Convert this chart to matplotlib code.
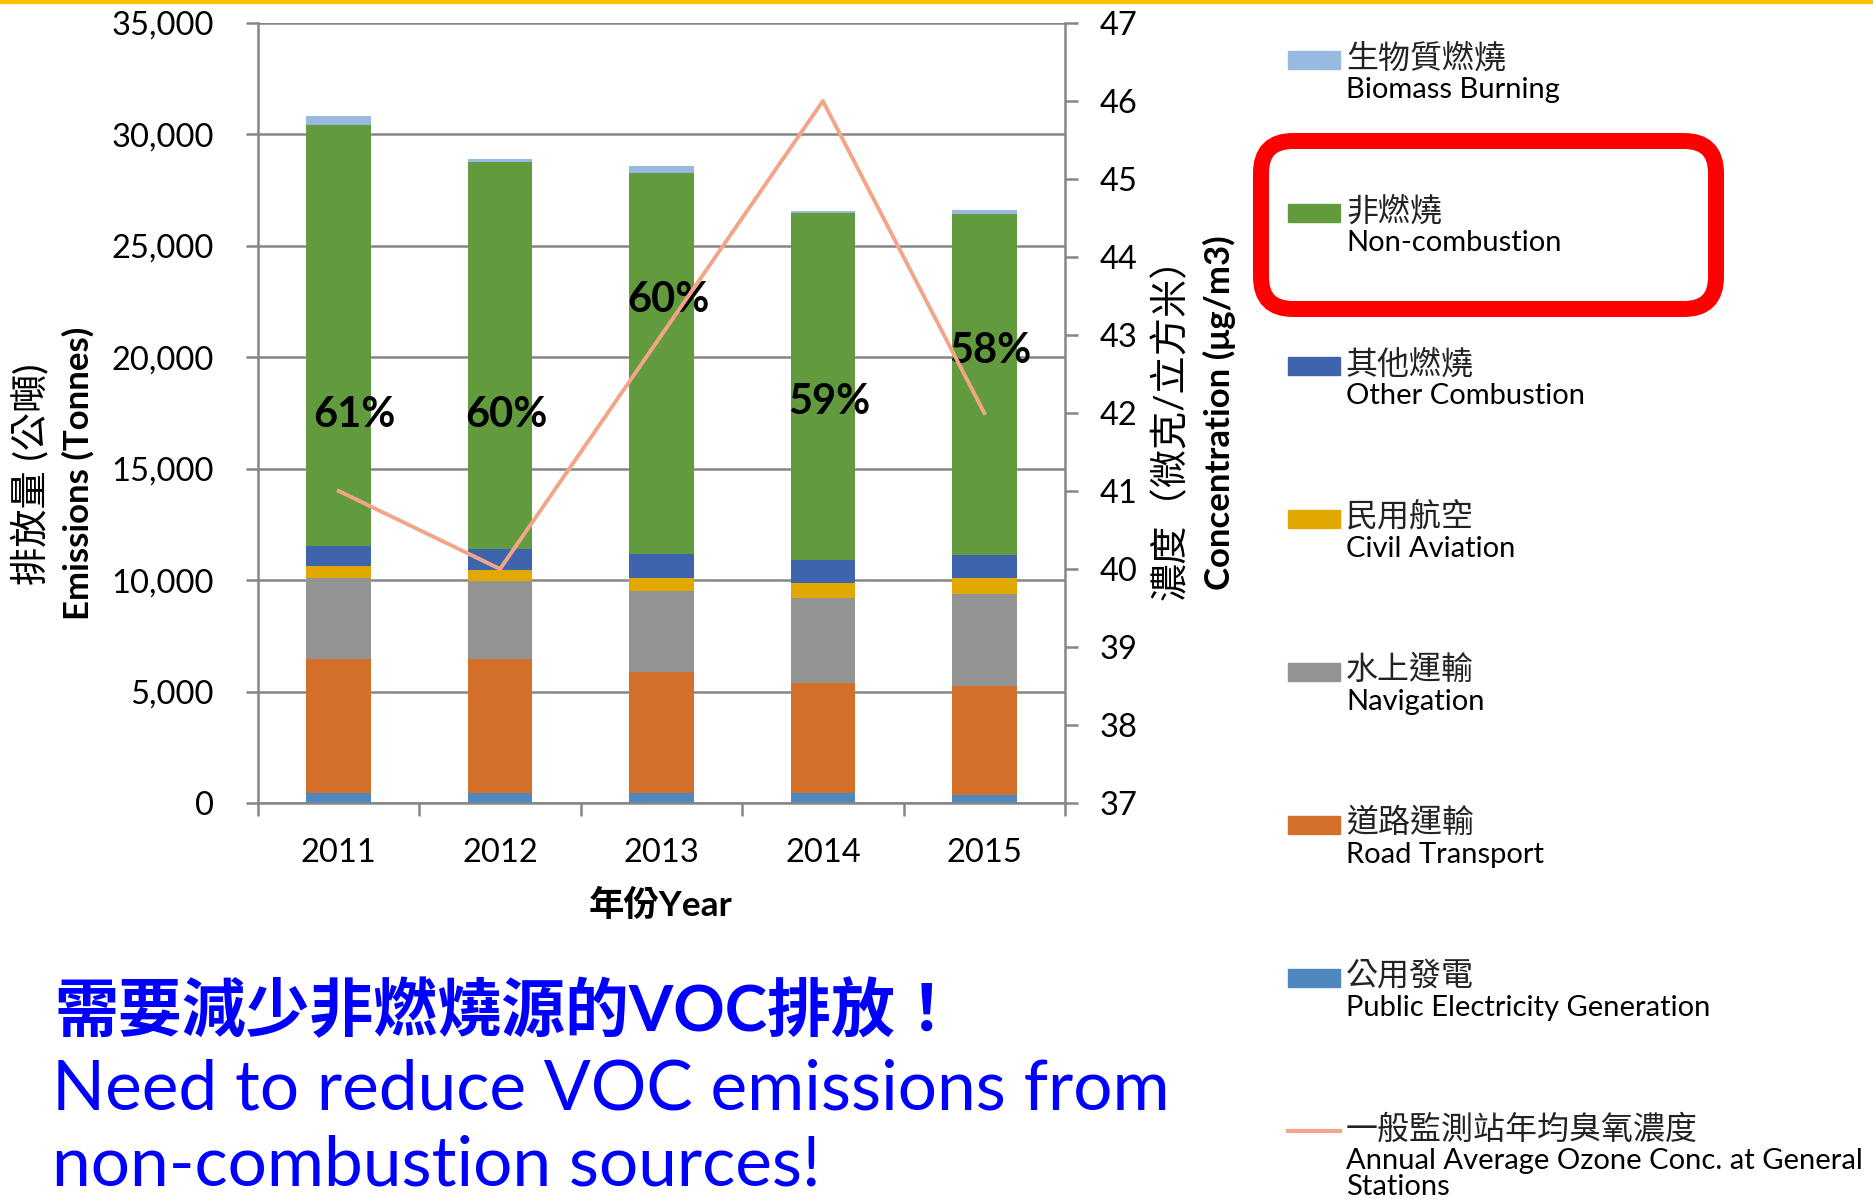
import numpy as np
import matplotlib.pyplot as plt
from matplotlib.patches import Rectangle, FancyBboxPatch
from matplotlib.lines import Line2D
from matplotlib.ticker import FuncFormatter
from matplotlib.transforms import IdentityTransform

plt.rcParams['font.family'] = ['Lato', 'Noto Sans CJK TC', 'DejaVu Sans']

# data (tonnes), stacked bottom -> top
years = ['2011', '2012', '2013', '2014', '2015']
public_elec = [435, 435, 435, 465, 375]
road_transport = [6015, 6015, 5430, 4905, 4860]
navigation = [3645, 3525, 3660, 3825, 4140]
civil_aviation = [540, 480, 570, 675, 720]
other_combustion = [900, 945, 1080, 1035, 1050]
non_combustion = [18875, 17345, 17075, 15565, 15280]
biomass = [405, 135, 315, 90, 180]
ozone = [41, 40, 43, 46, 42]  # ug/m3, right axis
pct_labels = ['61%', '60%', '60%', '59%', '58%']
pct_label_y = [17400, 17400, 22570, 18000, 20300]

series = [public_elec, road_transport, navigation, civil_aviation,
          other_combustion, non_combustion, biomass]
names_zh = ['公用發電', '道路運輸', '水上運輸', '民用航空', '其他燃燒', '非燃燒', '生物質燃燒']
names_en = ['Public Electricity Generation', 'Road Transport', 'Navigation',
            'Civil Aviation', 'Other Combustion', 'Non-combustion', 'Biomass Burning']
colors = ['#4F88BE', '#D46F2A', '#939393', '#E1A900', '#3D64AD', '#629A3E', '#98B9E0']
ozone_zh = '一般監測站年均臭氧濃度'
ozone_en = 'Annual Average Ozone Conc. at General\nStations'
ozone_color = '#F2A587'
grid_c = '#868686'

W, H = 1874, 1204
fig = plt.figure(figsize=(W / 100, H / 100), dpi=100)


def fx(x):
    return x / W


def fy(y):
    return 1 - y / H


ax = fig.add_axes([fx(258), fy(803), fx(1065) - fx(258), fy(23) - fy(803)])
x = np.arange(len(years))
bottom = np.zeros(len(years))
for vals, c in zip(series, colors):
    ax.bar(x, vals, 0.4, bottom=bottom, color=c, zorder=2)
    bottom += np.array(vals)

ax.set_xlim(-0.5, 4.5)
ax.set_ylim(0, 35000)
ax.set_yticks(np.arange(0, 35001, 5000))
ax.yaxis.set_major_formatter(FuncFormatter(lambda v, p: f'{v:,.0f}'))
ax.yaxis.grid(True, color=grid_c, lw=1.8, zorder=0)
ax.set_axisbelow(True)
ax.set_xticks(x)
ax.set_xticklabels(years)
ax.set_xticks(np.arange(-0.5, 5, 1), minor=True)
ax.tick_params(axis='x', which='major', length=0, pad=25, labelsize=23.5)
ax.tick_params(axis='x', which='minor', length=9, width=1.8, color=grid_c)
ax.tick_params(axis='y', length=9, width=1.8, color=grid_c, pad=23, labelsize=23.5)
for s in ['top', 'right']:
    ax.spines[s].set_visible(False)
for s in ['left', 'bottom']:
    ax.spines[s].set_color(grid_c)
    ax.spines[s].set_linewidth(1.8)

for i, (lab, yv) in enumerate(zip(pct_labels, pct_label_y)):
    dx = 0.1 if i == 0 else 0.04
    ax.text(i + dx, yv, lab, ha='center', va='center', fontsize=30,
            fontweight='bold', zorder=5)

ax2 = ax.twinx()
ax2.plot(x, ozone, color=ozone_color, lw=2.8)
ax2.set_ylim(37, 47)
ax2.set_yticks(np.arange(37, 48, 1))
ax2.tick_params(axis='y', length=9, width=1.8, color=grid_c, pad=16, labelsize=23.5)
for s in ['top', 'left', 'bottom']:
    ax2.spines[s].set_visible(False)
ax2.spines['right'].set_color(grid_c)
ax2.spines['right'].set_linewidth(1.8)

# axis titles
fig.text(fx(661), fy(905), '年份Year', ha='center', va='center', fontsize=25.5, fontweight='bold')
fig.text(fx(30), fy(474), '排放量 (公噸)', rotation=90, ha='center', va='center', fontsize=27.5)
fig.text(fx(78), fy(473), 'Emissions (Tonnes)', rotation=90, ha='center', va='center',
         fontsize=25, fontweight='bold')
fig.text(fx(1171), fy(419), '濃度（微克/立方米）', rotation=90, ha='center', va='center', fontsize=27.5)
fig.text(fx(1219), fy(413), 'Concentration (μg/m3)', rotation=90, ha='center', va='center',
         fontsize=25, fontweight='bold')

# legend drawn by hand, top entry = top of stack
entries = list(zip(names_zh, names_en, colors))[::-1]
for k, (zh, en, c) in enumerate(entries):
    yc = 60 + 153 * k
    fig.patches.append(Rectangle((fx(1288), fy(yc + 9)), fx(52), 18 / H, color=c,
                                 transform=fig.transFigure))
    fig.text(fx(1346), fy(yc - 2), zh, ha='left', va='center', fontsize=23, color='#222222')
    fig.text(fx(1346), fy(yc + 30), en, ha='left', va='center', fontsize=21)
yc = 60 + 153 * 7
fig.lines.append(Line2D([fx(1288), fx(1340)], [fy(yc), fy(yc)], color=ozone_color, lw=3,
                        transform=fig.transFigure))
fig.text(fx(1346), fy(yc - 2), ozone_zh, ha='left', va='center', fontsize=23, color='#222222')
fig.text(fx(1346), fy(yc + 17), ozone_en, ha='left', va='top', fontsize=21, linespacing=1.0)

# red highlight box around non-combustion
fig.patches.append(FancyBboxPatch((1261, H - 309), 455, 168,
                                  boxstyle='round,pad=0,rounding_size=32',
                                  fill=False, ec='#FF0000', lw=11.5,
                                  transform=IdentityTransform()))

# top yellow rule
fig.patches.append(Rectangle((0, fy(3)), 1, 3 / H, color='#FFC000', transform=fig.transFigure))

# message
msg_c = '#0000FF'
fig.text(fx(55), fy(1010), '需要減少非燃燒源的VOC排放！', ha='left', va='center',
         fontsize=46, color=msg_c, fontweight='bold')
fig.text(fx(52), fy(1090), 'Need to reduce VOC emissions from', ha='left', va='center',
         fontsize=50, color=msg_c)
fig.text(fx(52), fy(1166), 'non-combustion sources!', ha='left', va='center',
         fontsize=50, color=msg_c)

fig.savefig('out.png', dpi=100)
